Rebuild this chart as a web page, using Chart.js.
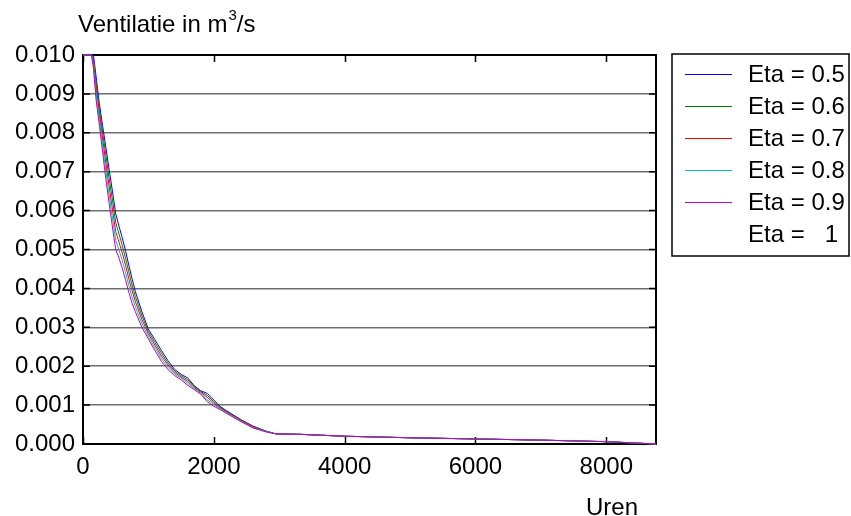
<!DOCTYPE html>
<html>
<head>
  <title>Ventilatie duurkromme</title>
  <script src="https://cdn.jsdelivr.net/npm/chart.js"></script>
  <style>
    body {
      margin: 0;
      background: #fff;
    }
  </style>
</head>
<body>
  <canvas id="myChart" width="851" height="516"></canvas>
  <script>
    // hours on the x axis (duration curve, 8760 h in a year)
    const hours = [0, 130, 160, 200, 250, 300, 350, 400, 450, 500, 550, 600, 650, 700, 750, 800,
      900, 1000, 1100, 1200, 1300, 1400, 1500, 1600, 1700, 1800, 1900, 2000, 2100, 2200,
      2400, 2600, 2800, 2950, 3300, 4000, 5000, 6000, 7000, 8000, 8760];

    const eta05 = [0.0100, 0.0100, 0.0100, 0.00945, 0.00875, 0.00818, 0.00762, 0.00705, 0.00650, 0.00592,
      0.00560, 0.00530, 0.00497, 0.00460, 0.00425, 0.00392, 0.00340, 0.00295, 0.00268, 0.00240,
      0.00214, 0.00192, 0.00179, 0.00170, 0.00150, 0.00137, 0.00130, 0.00113, 0.00096, 0.00085,
      0.00064, 0.00046, 0.00033, 0.00026, 0.00025, 0.00020, 0.00016, 0.00013, 0.00010, 0.00006, 0];
    const eta06 = [0.0100, 0.0100, 0.00991, 0.00930, 0.00861, 0.00801, 0.00742, 0.00683, 0.00627, 0.00569,
      0.00540, 0.00511, 0.00478, 0.00443, 0.00409, 0.00379, 0.00330, 0.00289, 0.00261, 0.00233,
      0.00208, 0.00188, 0.00176, 0.00165, 0.00148, 0.00135, 0.00125, 0.00109, 0.00094, 0.00083,
      0.00063, 0.00045, 0.00033, 0.00026, 0.00025, 0.00020, 0.00016, 0.00013, 0.00010, 0.00006, 0];
    const eta07 = [0.0100, 0.0100, 0.00983, 0.00915, 0.00848, 0.00784, 0.00721, 0.00662, 0.00604, 0.00546,
      0.00519, 0.00491, 0.00460, 0.00425, 0.00394, 0.00366, 0.00320, 0.00283, 0.00254, 0.00226,
      0.00203, 0.00184, 0.00172, 0.00161, 0.00145, 0.00133, 0.00120, 0.00105, 0.00092, 0.00082,
      0.00062, 0.00044, 0.00032, 0.00026, 0.00025, 0.00020, 0.00016, 0.00013, 0.00010, 0.00006, 0];
    const eta08 = [0.0100, 0.0100, 0.00974, 0.00900, 0.00834, 0.00767, 0.00701, 0.00640, 0.00581, 0.00523,
      0.00499, 0.00472, 0.00441, 0.00408, 0.00378, 0.00353, 0.00310, 0.00276, 0.00247, 0.00219,
      0.00197, 0.00180, 0.00169, 0.00156, 0.00143, 0.00130, 0.00114, 0.00101, 0.00090, 0.00080,
      0.00060, 0.00042, 0.00032, 0.00026, 0.00025, 0.00020, 0.00016, 0.00013, 0.00010, 0.00006, 0];
    const eta09 = [0.0100, 0.0100, 0.00965, 0.00885, 0.00820, 0.00750, 0.00680, 0.00618, 0.00558, 0.00500,
      0.00478, 0.00452, 0.00422, 0.00390, 0.00362, 0.00340, 0.00300, 0.00270, 0.00240, 0.00212,
      0.00191, 0.00176, 0.00165, 0.00151, 0.00140, 0.00128, 0.00109, 0.00097, 0.00088, 0.00078,
      0.00059, 0.00041, 0.00031, 0.00026, 0.00025, 0.00020, 0.00016, 0.00013, 0.00010, 0.00006, 0];
    const eta10 = [0.0100, 0.0100, 0.00960, 0.00870, 0.00810, 0.00730, 0.00660, 0.00600, 0.00540, 0.00490,
      0.00470, 0.00440, 0.00410, 0.00380, 0.00350, 0.00330, 0.00290, 0.00260, 0.00230, 0.00210,
      0.00190, 0.00172, 0.00161, 0.00147, 0.00137, 0.00125, 0.00106, 0.00095, 0.00086, 0.00076,
      0.00058, 0.00040, 0.00030, 0.00026, 0.00025, 0.00020, 0.00016, 0.00013, 0.00010, 0.00006, 0];

    const seriesLabels = ['Eta = 0.5', 'Eta = 0.6', 'Eta = 0.7', 'Eta = 0.8', 'Eta = 0.9', 'Eta =   1'];
    const seriesValues = [eta05, eta06, eta07, eta08, eta09, eta10];
    const xTicks = [0, 2000, 4000, 6000, 8000];
    const yTicks = [0, 0.001, 0.002, 0.003, 0.004, 0.005, 0.006, 0.007, 0.008, 0.009, 0.010];

    // matlab-ish line colours, last one is not visible in the original
    const colors = ['#0000ff', '#008000', '#ff0000', '#00bfbf', '#bf00bf', 'rgba(0,0,0,0)'];
    const FONT = "'Liberation Sans', Arial, sans-serif";

    Chart.defaults.font.family = FONT;
    Chart.defaults.font.size = 24;
    Chart.defaults.color = '#000';

    const frame = {
      id: 'frame',
      beforeDatasetsDraw(chart) {
        const ctx = chart.ctx;
        const a = chart.chartArea;
        const xs = chart.scales.x;
        const ys = chart.scales.y;
        ctx.save();
        ctx.strokeStyle = '#000';
        ctx.lineWidth = 1.5;
        ctx.beginPath();
        xTicks.forEach(v => {
          const px = Math.round(xs.getPixelForValue(v)) + 0.5;
          ctx.moveTo(px, a.bottom); ctx.lineTo(px, a.bottom - 7);
          ctx.moveTo(px, a.top); ctx.lineTo(px, a.top + 7);
        });
        yTicks.forEach(v => {
          const py = ys.getPixelForValue(v);
          ctx.moveTo(a.left, py); ctx.lineTo(a.left + 7, py);
          ctx.moveTo(a.right, py); ctx.lineTo(a.right - 7, py);
        });
        ctx.stroke();
        ctx.lineWidth = 2;
        ctx.strokeRect(a.left, a.top, a.right - a.left, a.bottom - a.top);
        ctx.restore();
      },
      afterDraw(chart) {
        const ctx = chart.ctx;
        ctx.save();
        ctx.fillStyle = '#000';
        ctx.textBaseline = 'alphabetic';

        // y axis title with superscript
        ctx.font = '24px ' + FONT;
        let x = 78;
        const base = 32;
        ctx.fillText('Ventilatie in m', x, base);
        x += ctx.measureText('Ventilatie in m').width;
        ctx.font = '15px ' + FONT;
        ctx.fillText('3', x + 1, base - 12);
        x += ctx.measureText('3').width + 1;
        ctx.font = '24px ' + FONT;
        ctx.fillText('/s', x, base);

        // x axis title
        ctx.textAlign = 'center';
        ctx.fillText('Uren', 612, 515);

        // legend box
        ctx.textAlign = 'left';
        ctx.textBaseline = 'middle';
        ctx.lineWidth = 1.5;
        ctx.strokeStyle = '#000';
        ctx.strokeRect(672, 54, 177, 202);
        chart.data.datasets.forEach((ds, i) => {
          const y = 74 + i * 32;
          ctx.beginPath();
          ctx.strokeStyle = ds.borderColor;
          ctx.lineWidth = 1;
          ctx.moveTo(685, y + 0.5);
          ctx.lineTo(732, y + 0.5);
          ctx.stroke();
          ctx.fillText(ds.label, 748, y + 1);
        });
        ctx.restore();
      }
    };

    const ctx = document.getElementById('myChart').getContext('2d');
    const chart = new Chart(ctx, {
      type: 'line',
      data: {
        datasets: seriesValues.map((vals, i) => ({
          label: seriesLabels[i],
          data: hours.map((h, j) => ({ x: h, y: vals[j] })),
          borderColor: colors[i],
          borderWidth: 1,
          pointRadius: 0,
          tension: 0,
          fill: false,
          clip: 3,
          order: seriesValues.length - i
        }))
      },
      options: {
        responsive: false,
        devicePixelRatio: 1,
        animation: false,
        layout: { padding: { top: 55, right: 195, left: 0, bottom: 0 } },
        plugins: {
          legend: { display: false },
          tooltip: { enabled: false }
        },
        scales: {
          x: {
            type: 'linear',
            min: 0,
            max: 8760,
            afterBuildTicks: s => { s.ticks = xTicks.map(v => ({ value: v })); },
            afterFit: s => { s.height = 72; },
            grid: { display: false, drawTicks: false },
            border: { display: false },
            ticks: { padding: 9, autoSkip: false, maxRotation: 0, callback: v => String(v) }
          },
          y: {
            type: 'linear',
            min: 0,
            max: 0.010,
            afterBuildTicks: s => { s.ticks = yTicks.map(v => ({ value: v })); },
            afterFit: s => { s.width = 83; },
            grid: { color: '#6e6e6e', lineWidth: 1.5, drawTicks: false },
            border: { display: false },
            ticks: { padding: 8, autoSkip: false, callback: v => v.toFixed(3) }
          }
        }
      },
      plugins: [frame]
    });
  </script>
</body>
</html>
